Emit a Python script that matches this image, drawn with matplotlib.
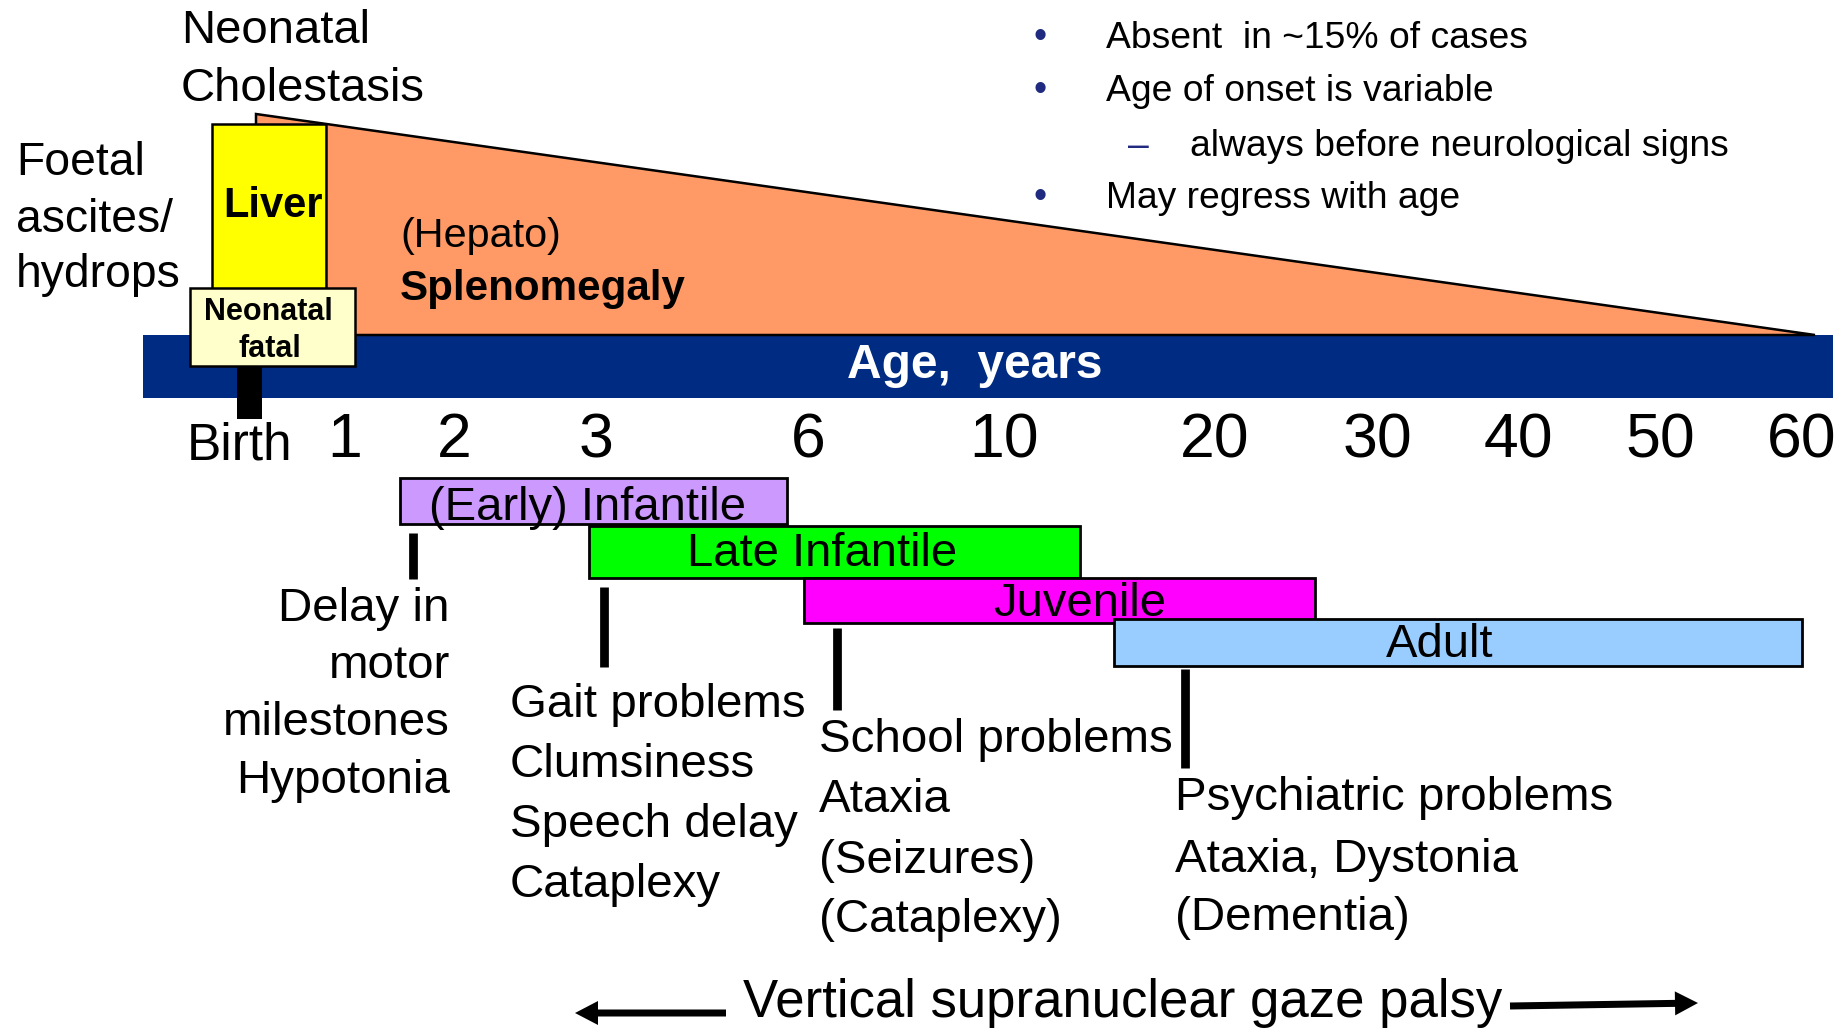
import numpy as np
import matplotlib
matplotlib.use("Agg")
import matplotlib.pyplot as plt
from matplotlib.patches import Rectangle, Polygon

plt.rcParams['font.family'] = ['Liberation Sans', 'DejaVu Sans']

# ---------------- data ----------------
tick_labels = ['Birth', '1', '2', '3', '6', '10', '20', '30', '40', '50', '60']
tick_ages = [0, 1, 2, 3, 6, 10, 20, 30, 40, 50, 60]

stage_names = ['(Early) Infantile', 'Late Infantile', 'Juvenile', 'Adult']
stage_start_age = [1.5, 2.95, 5.95, 15.2]
stage_end_age = [5.7, 13.6, 26.2, 60.0]
stage_sign_age = [1.62, 3.12, 6.59, 18.6]
stage_signs = [
    ['Delay in', 'motor', 'milestones', 'Hypotonia'],
    ['Gait problems', 'Clumsiness', 'Speech delay', 'Cataplexy'],
    ['School problems', 'Ataxia', '(Seizures)', '(Cataplexy)'],
    ['Psychiatric problems', 'Ataxia, Dystonia', '(Dementia)'],
]
notes = ['Absent  in ~15% of cases', 'Age of onset is variable',
         'always before neurological signs', 'May regress with age']
note_level = [0, 0, 1, 0]

# ---------------- layout / style ----------------
W, H = 1843, 1030
tick_x = [249, 345, 454, 596, 808, 1004, 1215, 1377, 1518, 1660, 1802]


def age_x(a):
    return float(np.interp(a, tick_ages, tick_x))


stage_colors = ['#CC99FF', '#00FF00', '#FF00FF', '#99CCFF']
stage_rows = [(478, 524), (526, 578), (578, 623), (619, 666)]
stage_label_dx = [-6, -12, 20, -18]
stage_label_base = [520, 566, 616, 657]
sign_line_y = [(533, 579), (587, 667), (628, 710), (669, 768)]
sign_x = [450, 510, 819, 1175]
sign_ha = ['right', 'left', 'left', 'left']
sign_base = [[621, 678, 735, 793], [717, 777, 837, 897],
             [752, 812, 873, 932], [810, 872, 930]]
navy = '#002B82'
bullet_col = '#1F2A80'
note_x = [1106, 1106, 1190, 1106]
note_base = [48, 101, 156, 208]

fig = plt.figure(figsize=(W / 100, H / 100), dpi=100)
ax = fig.add_axes([0, 0, 1, 1])
ax.set_xlim(0, W)
ax.set_ylim(H, 0)
ax.axis('off')

# age bar
ax.add_patch(Rectangle((143, 335), 1690, 63, fc=navy, ec='none', zorder=1))
ax.text(975, 378, 'Age,  years', color='white', fontsize=34.5,
        fontweight='bold', ha='center', va='baseline', zorder=6)

# splenomegaly wedge
ax.add_patch(Polygon([(256, 335), (256, 114), (1815, 335)], closed=True,
                     fc='#FF9966', ec='black', lw=1.8, zorder=2))
ax.text(400, 247, '(Hepato)', fontsize=29.8, ha='left', va='baseline', zorder=6)
ax.text(400, 300, 'Splenomegaly', fontsize=30.3, fontweight='bold',
        ha='left', va='baseline', zorder=6)

# liver box
ax.add_patch(Rectangle((212, 124), 114, 170, fc='#FFFF00', ec='black',
                       lw=1.8, zorder=3))
ax.text(273, 217, 'Liver', fontsize=30, fontweight='bold', ha='center',
        va='baseline', zorder=6)

# neonatal fatal box
ax.add_patch(Rectangle((190, 288), 165, 78, fc='#FFFFCC', ec='black',
                       lw=1.8, zorder=4))
ax.text(268, 320, 'Neonatal', fontsize=22, fontweight='bold', ha='center',
        va='baseline', zorder=6)
ax.text(270, 357, 'fatal', fontsize=22, fontweight='bold', ha='center',
        va='baseline', zorder=6)

# birth tick
bx = age_x(0)
ax.add_patch(Rectangle((bx - 12.5, 366), 25, 53, fc='black', ec='none',
                       zorder=4))

# tick labels
for lab, a in zip(tick_labels, tick_ages):
    if lab == 'Birth':
        ax.text(age_x(a) - 9, 459, lab, fontsize=37, ha='center',
                va='baseline')
    else:
        ax.text(age_x(a), 457, lab, fontsize=45, ha='center', va='baseline')

# top-left labels
for t, yb in zip(['Neonatal', 'Cholestasis'], [43, 101]):
    ax.text(181, yb, t, fontsize=34, ha='left', va='baseline')
for t, yb in zip(['Foetal', 'ascites/', 'hydrops'], [175, 232, 287]):
    ax.text(16, yb, t, fontsize=33.3, ha='left', va='baseline')

# notes
for t, lvl, x, yb in zip(notes, note_level, note_x, note_base):
    if lvl == 0:
        ax.text(1040, yb, '\u2022', fontsize=27, color=bullet_col,
                ha='center', va='baseline')
    else:
        ax.text(1128, yb, '\u2013', fontsize=26.8, color=bullet_col,
                ha='left', va='baseline')
    ax.text(x, yb, t, fontsize=26.8, ha='left', va='baseline')

# stages
for i, name in enumerate(stage_names):
    x0, x1 = age_x(stage_start_age[i]), age_x(stage_end_age[i])
    y0, y1 = stage_rows[i]
    ax.add_patch(Rectangle((x0, y0), x1 - x0, y1 - y0, fc=stage_colors[i],
                           ec='black', lw=2, zorder=3 + i * 0.1))
    ax.text((x0 + x1) / 2 + stage_label_dx[i], stage_label_base[i], name,
            fontsize=34, ha='center', va='baseline', zorder=6)
    sx = age_x(stage_sign_age[i])
    ax.plot([sx, sx], sign_line_y[i], color='black', lw=6.3,
            solid_capstyle='butt', zorder=5)
    for t, yb in zip(stage_signs[i], sign_base[i]):
        ax.text(sign_x[i], yb, t, fontsize=34.2, ha=sign_ha[i], va='baseline')

# gaze palsy
ax.text(1123, 1017, 'Vertical supranuclear gaze palsy', fontsize=38,
        ha='center', va='baseline')
ax.arrow(726, 1013, -151, 0, width=7, head_width=24, head_length=23,
         length_includes_head=True, fc='black', ec='none')
ax.arrow(1510, 1006, 188, -3, width=7, head_width=24, head_length=23,
         length_includes_head=True, fc='black', ec='none')

fig.savefig('out.png', dpi=100)
